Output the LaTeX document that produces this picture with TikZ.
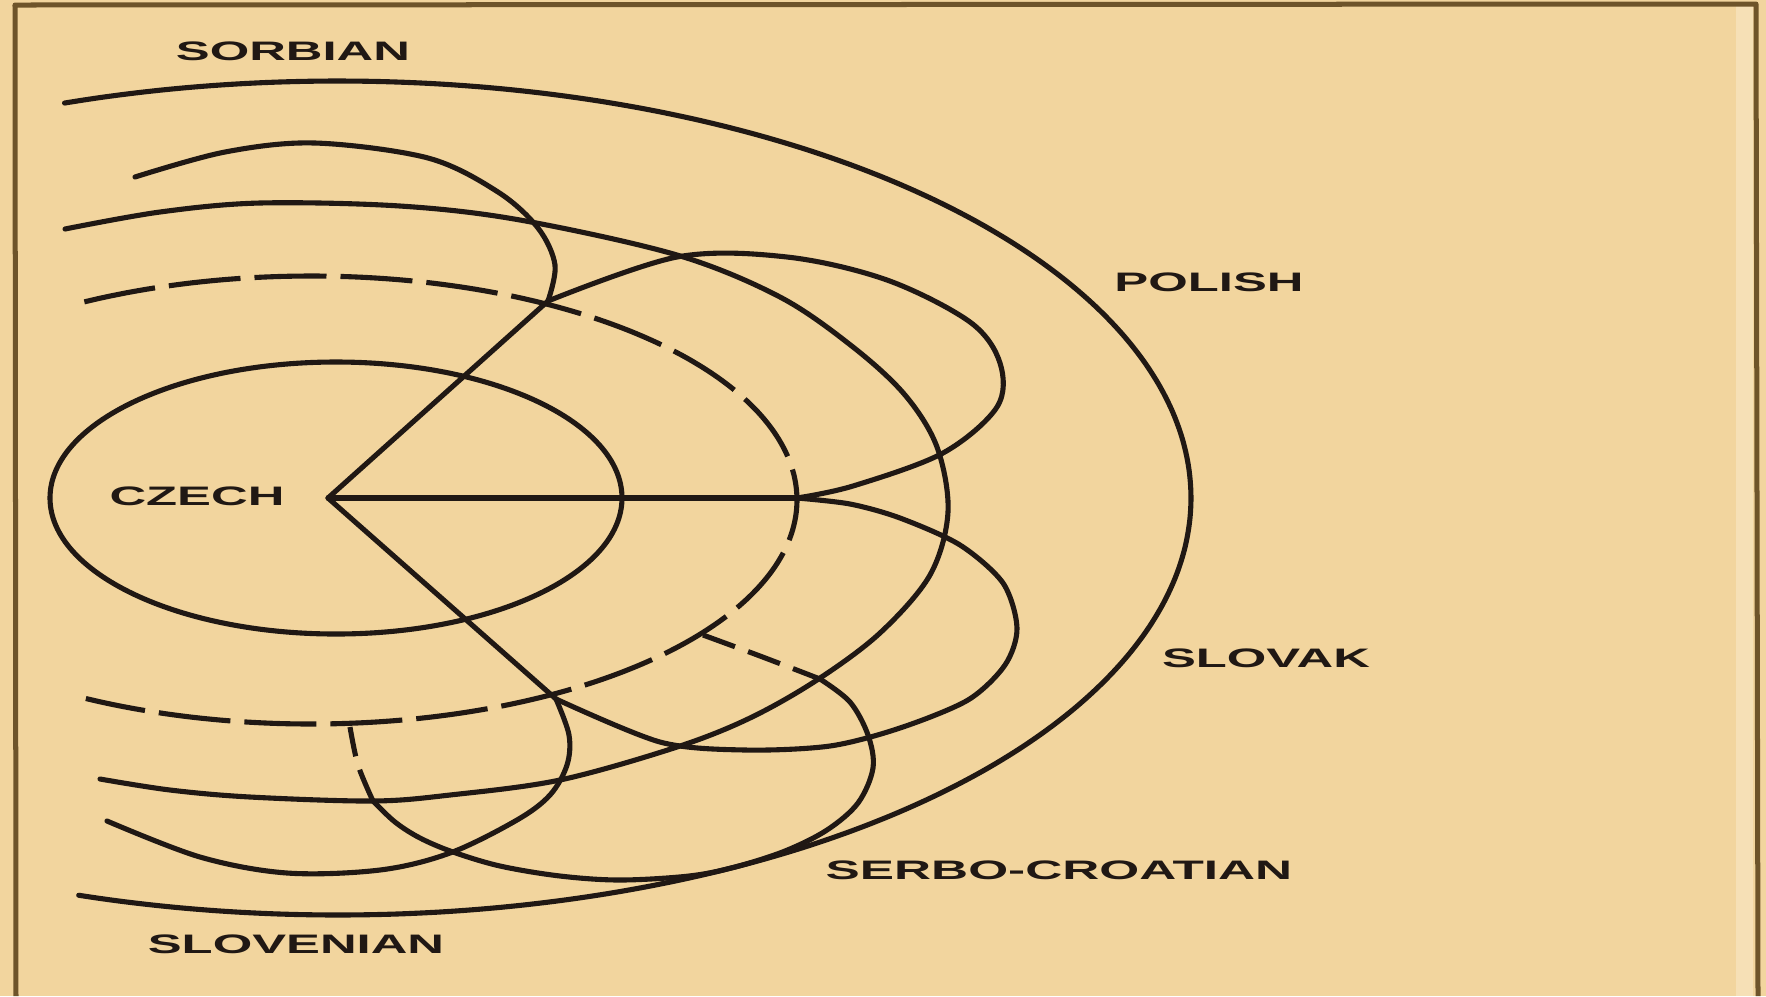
\documentclass[tikz,border=0pt]{standalone}
\usepackage{fontspec}
\setmainfont{Liberation Sans}
\begin{document}
\begin{tikzpicture}[x=0.01cm,y=-0.01cm,line join=round,line cap=round]
\definecolor{paper}{RGB}{242,213,158}
\definecolor{paperlight}{RGB}{246,224,182}
\definecolor{ink}{RGB}{32,24,20}
\definecolor{framec}{RGB}{110,84,42}
\tikzset{
  curve/.style={draw=ink,line width=1.45pt},
  longdash/.style={curve,line cap=butt,dash pattern=on 0.72cm off 0.14cm},
  shortdash/.style={curve,line cap=butt,dash pattern=on 0.34cm off 0.14cm},
  lbl/.style={inner sep=0pt,text=ink,font=\fontsize{7.6pt}{9pt}\selectfont\bfseries}
}
\fill[paper] (0,0) rectangle (1766,996);
\useasboundingbox (0,0) rectangle (1766,996);
\fill[paperlight] (1736,6) rectangle (1753,996);
% frame
\draw[framec,line width=0.05cm,line cap=butt] (16,996) -- (15,5) -- (1756,4) -- (1758,996);

% key points
\coordinate (P) at (328,498);
\coordinate (H) at (797,498);
\coordinate (J1) at (548,301);
\coordinate (J2) at (556,699);
\coordinate (C1) at (703,635);
\coordinate (C2) at (350,727);
\coordinate (XB1) at (820,679);
\coordinate (XB2) at (373,801);

% outer ellipse
\draw[curve] plot[domain=-108.7:107.7,samples=160,smooth] ({338+853*cos(\x)},{498+417*sin(\x)});
% Czech ellipse
\draw[curve] (336,498) ellipse[x radius=286,y radius=136];
% dashed ellipse
\draw[longdash] plot[domain=-117.8:117.6,samples=140,smooth] ({311+486*cos(\x)},{500+224*sin(\x)});
% curve B
\draw[curve] plot[smooth,tension=0.55] coordinates {(65,229) (160,212) (260,203) (400,206) (520,220) (677,255) (780,297) (853,347) (905,395) (937,447) (948,512) (930,575) (880,633) (817,680) (750,718) (677,747) (560,780) (450,795) (373,801) (250,797) (170,790) (100,779)};
% Sorbian curve
\draw[curve] plot[smooth,tension=0.55] coordinates {(135,177) (225,152) (315,143) (428,158) (498,192) (538,228) (555,265) (J1)};
% lower mirror curve
\draw[curve] plot[smooth,tension=0.55] coordinates {(107,821) (200,857) (287,873) (380,870) (450,853) (517,820) (550,795) (567,765) (569,735) (J2)};
% lines from Czech
\draw[curve] (J1) -- (P) -- (J2);
\draw[curve] (P) -- (H);
% Polish lobe
\draw[curve] plot[smooth,tension=0.55] coordinates {(J1) (677,257) (787,257) (887,280) (970,322) (1000,363) (997,407) (943,453) (853,486) (H)};
% Slovak lobe
\draw[curve] plot[smooth,tension=0.5] coordinates {(J2) (660,742) (745,750) (830,746) (900,728) (968,700) (1005,665) (1017,628) (1003,583) (960,545) (900,518) (850,504) (H)};
% Serbo-Croatian lobe
\draw[shortdash] plot[smooth,tension=0.55] coordinates {(C1) (760,656) (XB1)};
\draw[curve] plot[smooth,tension=0.55] coordinates {(XB1) (850,702) (868,735) (873,768) (858,803) (827,830) (785,851) (735,867) (689,876) (620,880) (560,876) (500,866) (453,852) (420,838) (395,822) (XB2)};
\draw[shortdash] plot[smooth,tension=0.55] coordinates {(XB2) (358,765) (C2)};

% labels
\node[lbl] (sorbian) at (293,51) {\scalebox{1.9}[1]{SORBIAN}};
\node[lbl] (polish) at (1209,282) {\scalebox{1.9}[1]{POLISH}};
\node[lbl] (czech) at (197,496) {\scalebox{1.9}[1]{CZECH}};
\node[lbl] (slovak) at (1266,658) {\scalebox{1.9}[1]{SLOVAK}};
\node[lbl] (serbo) at (1059,870) {\scalebox{1.92}[1]{SERBO-CROATIAN}};
\node[lbl] (slovenian) at (296,944) {\scalebox{1.9}[1]{SLOVENIAN}};
\end{tikzpicture}
\end{document}
